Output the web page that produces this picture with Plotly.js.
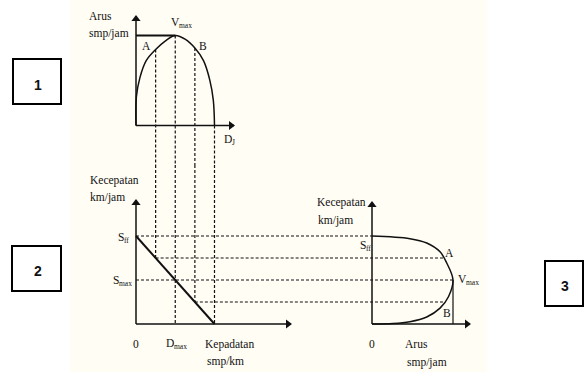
<!DOCTYPE html>
<html>
<head>
<meta charset="utf-8">
<script src="https://cdn.plot.ly/plotly-3.0.1.min.js"></script>
<style>
html, body { margin: 0; padding: 0; background: #fff; }
#grafik { width: 584px; height: 372px; }
</style>
</head>
<body>
<div id="grafik"></div>
<script>
// kurva 1 : arus vs kepadatan
var kepadatanAtas = [0, 0.5, 5, 13, 25, 38, 50, 63, 75, 86, 94, 98.5, 100];
var arusAtas = [0, 800, 1330, 1800, 2110, 2360, 2500, 2390, 2150, 1800, 1260, 700, 0];

// kurva 2 : kecepatan vs kepadatan (garis lurus)
var kepadatanKiri = [0, 100];
var kecepatanKiri = [100, 0];

// kurva 3 : kecepatan vs arus
var arusKanan = [0, 1170, 1690, 2100, 2310, 2500, 2360, 2100, 1690, 1170, 650, 0];
var kecepatanKanan = [100, 97, 92, 82, 69, 50, 31, 18, 8, 2.6, 0.5, 0];

// garis bantu putus-putus
var kepadatanVertikal = [25, 50, 75, 100];     // D_A, D_max, D_B, D_J
var arusVertikal = [2110, 2500, 2150, 0];      // titik awal di kurva atas
var kecepatanVertikal = [75, 0, 25, 0];        // titik akhir di kurva kiri
var kecepatanHorizontal = [100, 75, 50, 25];   // S_ff, A, S_max, B
var kepadatanHorizontal = [0, 25, 0, 75];      // titik awal di kurva kiri
var arusHorizontal = [0, 2200, 2500, 2230];    // titik akhir di kurva kanan

var Dmax = 50, Smax = 50, Vmax = 2500;

// skala piksel (lebar 584, tinggi 372)
var W = 584, H = 372;
var ox = 136, kx = 0.785;          // kepadatan
var oyA = 125.5, kyA = 0.036;      // arus (atas)
var oyB = 324, kyB = 0.88;         // kecepatan (bawah)
var oxK = 372, kxK = 0.0324;       // arus (kanan)
var potongX = 330, potongY = 165;

var xMaxKiri = (potongX - ox) / kx;
var xMinKanan = (potongX - oxK) / kxK;
var yMinAtas = (oyA - potongY) / kyA;
var yMaxBawah = (oyB - potongY) / kyB;

function garis(x, y, xa, ya, w, dash, shape) {
    return {
        type: 'scatter', mode: 'lines', x: x, y: y, xaxis: xa, yaxis: ya,
        hoverinfo: 'skip', showlegend: false,
        line: { color: '#111', width: w, dash: dash || 'solid', shape: shape || 'linear', smoothing: 1 }
    };
}

var data = [];
data.push(garis(kepadatanAtas, arusAtas, 'x', 'y', 1.5, 'solid', 'spline'));
data.push(garis([0, Dmax], [Vmax, Vmax], 'x', 'y', 2.2));
data.push(garis(kepadatanKiri, kecepatanKiri, 'x', 'y2', 2));
data.push(garis(arusKanan, kecepatanKanan, 'x2', 'y2', 1.5, 'solid', 'spline'));
data.push(garis([Vmax, Vmax], [0, Smax], 'x2', 'y2', 1.2));

// vertikal putus-putus (dua bagian: atas dan bawah)
var vxA = [], vyA = [], vxB = [], vyB = [];
for (var i in kepadatanVertikal) {
    vxA.push(kepadatanVertikal[i], kepadatanVertikal[i], null);
    vyA.push(arusVertikal[i], yMinAtas, null);
    vxB.push(kepadatanVertikal[i], kepadatanVertikal[i], null);
    vyB.push(yMaxBawah, kecepatanVertikal[i], null);
}
data.push(garis(vxA, vyA, 'x', 'y', 1.2, '3px,2px'));
data.push(garis(vxB, vyB, 'x', 'y2', 1.2, '3px,2px'));

// horizontal putus-putus (dua bagian: kiri dan kanan)
var hxL = [], hyL = [], hxR = [], hyR = [];
for (var j in kecepatanHorizontal) {
    hxL.push(kepadatanHorizontal[j], xMaxKiri, null);
    hyL.push(kecepatanHorizontal[j], kecepatanHorizontal[j], null);
    hxR.push(xMinKanan, arusHorizontal[j], null);
    hyR.push(kecepatanHorizontal[j], kecepatanHorizontal[j], null);
}
data.push(garis(hxL, hyL, 'x', 'y2', 1.2, '3px,2px'));
data.push(garis(hxR, hyR, 'x2', 'y2', 1.2, '3px,2px'));

// sumbu dengan panah: garis + segitiga di ujung
function sumbu(xa, ya, xUjung, yUjung, xPanah, yPanah, simbol) {
    data.push(garis([0, xUjung], [0, yUjung], xa, ya, 1.5));
    data.push({
        type: 'scatter', mode: 'markers', x: [xPanah], y: [yPanah], xaxis: xa, yaxis: ya,
        hoverinfo: 'skip', showlegend: false,
        marker: { symbol: simbol, size: 8, color: '#111', line: { width: 0 } }
    });
}
sumbu('x', 'y', 0, (oyA - 16) / kyA, 0, (oyA - 19) / kyA, 'triangle-up');
sumbu('x', 'y', (234 - ox) / kx, 0, (231 - ox) / kx, 0, 'triangle-right');
sumbu('x', 'y2', 0, (oyB - 200) / kyB, 0, (oyB - 203) / kyB, 'triangle-up');
sumbu('x', 'y2', (291 - ox) / kx, 0, (288 - ox) / kx, 0, 'triangle-right');
sumbu('x2', 'y2', 0, (oyB - 202) / kyB, 0, (oyB - 205) / kyB, 'triangle-up');
sumbu('x2', 'y2', (470 - oxK) / kxK, 0, (467 - oxK) / kxK, 0, 'triangle-right');

var annotations = [];
function teks(t, x, y, xanchor, size) {
    annotations.push({
        xref: 'paper', yref: 'paper', x: x / W, y: 1 - y / H, text: t,
        xanchor: xanchor || 'center', yanchor: 'middle', showarrow: false,
        font: { family: 'Liberation Serif, serif', size: size || 11.5, color: '#111' }
    });
}
// huruf dengan subskrip kecil (x = tepi kiri huruf utama)
function teksSub(huruf, sub, x, y, lebar) {
    teks(huruf, x, y, 'left');
    teks(sub, x + lebar, y + 3.5, 'left', 7.5);
}
function kotak(t, x, y) {
    annotations.push({
        xref: 'paper', yref: 'paper', x: x / W, y: 1 - y / H, text: '<b>' + t + '</b>',
        xanchor: 'center', yanchor: 'middle', showarrow: false,
        font: { family: 'Liberation Sans, Arial, sans-serif', size: 14, color: '#111' }
    });
}

teks('Arus', 87, 16, 'left');
teks('smp/jam', 87, 33, 'left');
teksSub('V', 'max', 169, 22, 8);
teks('A', 146, 46);
teks('B', 203, 46);
teksSub('D', 'J', 222, 139, 8);

teks('Kecepatan', 88, 180, 'left');
teks('km/jam', 88, 197, 'left');
teksSub('S', 'ff', 116, 237, 6);
teksSub('S', 'max', 111, 280, 6);
teks('0', 136, 344);
teksSub('D', 'max', 164, 343, 8);
teks('Kepadatan', 203, 344, 'left');
teks('smp/km', 205, 361, 'left');

teks('Kecepatan', 315, 203, 'left');
teks('km/jam', 316, 220, 'left');
teksSub('S', 'ff', 358, 245, 6);
teks('A', 449, 253);
teksSub('V', 'max', 456, 279, 8);
teks('B', 447, 313);
teks('0', 372, 344);
teks('Arus', 403, 344, 'left');
teks('smp/jam', 405, 362, 'left');

kotak('1', 38, 85);
kotak('2', 38, 271);
kotak('3', 565, 286);

function rect(x0, y0, x1, y1) {
    return {
        type: 'rect', xref: 'paper', yref: 'paper',
        x0: x0 / W, x1: x1 / W, y0: 1 - y1 / H, y1: 1 - y0 / H,
        line: { color: '#000', width: 2 }, fillcolor: 'rgba(0,0,0,0)'
    };
}

var layout = {
    width: W,
    height: H,
    margin: { l: 0, r: 0, t: 0, b: 0 },
    paper_bgcolor: '#ffffff',
    plot_bgcolor: 'rgba(0,0,0,0)',
    showlegend: false,
    xaxis: { domain: [0, potongX / W], range: [-ox / kx, xMaxKiri], visible: false, fixedrange: true },
    xaxis2: { domain: [potongX / W, 1], range: [xMinKanan, (W - oxK) / kxK], visible: false, fixedrange: true, anchor: 'y2' },
    yaxis: { domain: [1 - potongY / H, 1], range: [yMinAtas, oyA / kyA], visible: false, fixedrange: true },
    yaxis2: { domain: [0, 1 - potongY / H], range: [(oyB - H) / kyB, yMaxBawah], visible: false, fixedrange: true, anchor: 'x2' },
    shapes: [
        {
            type: 'rect', xref: 'paper', yref: 'paper', x0: 70 / W, x1: 487 / W, y0: 0, y1: 1,
            fillcolor: '#FFFDF4', line: { width: 0 }, layer: 'below'
        },
        rect(13, 59, 61, 104),
        rect(12, 246, 61, 291),
        rect(545, 261, 583, 306)
    ],
    annotations: annotations
};

Plotly.newPlot('grafik', data, layout, { displayModeBar: false, staticPlot: true });
</script>
</body>
</html>
